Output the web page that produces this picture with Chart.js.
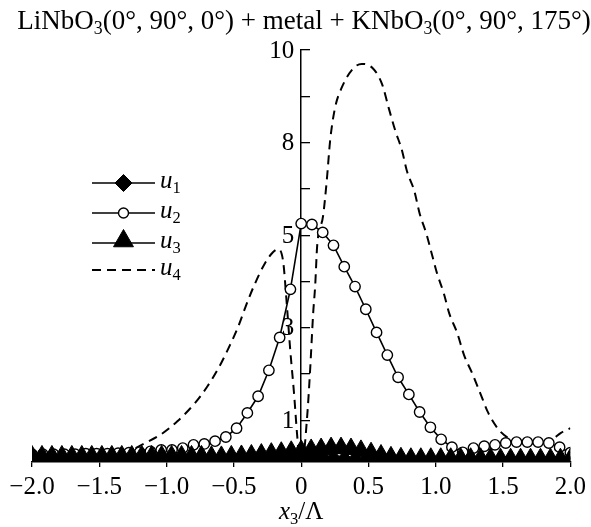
<!DOCTYPE html>
<html>
<head>
<meta charset="utf-8">
<script src="https://cdn.jsdelivr.net/npm/chart.js@4.4.1/dist/chart.umd.min.js"></script>
<style>
  html, body { margin: 0; padding: 0; background: #fff; }
</style>
</head>
<body>
<canvas id="c" width="591" height="527"></canvas>
<script>
// Sample positions x3/Λ for u1 and u2 (step 0.08)
const gridX = [-2.00,-1.92,-1.84,-1.76,-1.68,-1.60,-1.52,-1.44,-1.36,-1.28,-1.20,-1.12,-1.04,-0.96,-0.88,-0.80,-0.72,-0.64,-0.56,-0.48,-0.40,-0.32,-0.24,-0.16,-0.08,
  0.00,0.08,0.16,0.24,0.32,0.40,0.48,0.56,0.64,0.72,0.80,0.88,0.96,1.04,1.12,1.20,1.28,1.36,1.44,1.52,1.60,1.68,1.76,1.84,1.92,2.00];

const u1 = [1.05,1.05,1.05,1.05,1.05,1.05,1.05,1.05,1.05,1.05,1.05,1.05,1.05,1.05,1.05,1.05,1.06,1.07,1.09,1.11,1.12,1.12,1.13,1.14,1.15,
  1.16,1.17,1.17,1.17,1.16,1.15,1.13,1.11,1.09,1.07,1.06,1.05,1.05,1.05,1.05,1.05,1.05,1.05,1.05,1.05,1.05,1.05,1.05,1.05,1.05,1.05];

const u2 = [1.27,1.27,1.27,1.27,1.27,1.28,1.28,1.28,1.29,1.30,1.31,1.33,1.36,1.36,1.40,1.47,1.49,1.55,1.64,1.83,2.16,2.52,3.08,3.79,4.83,
  6.25,6.23,6.06,5.78,5.32,4.89,4.40,3.90,3.41,2.93,2.56,2.18,1.85,1.59,1.42,1.31,1.40,1.44,1.47,1.51,1.53,1.53,1.53,1.51,1.42,1.30];

// Sample positions for u3 (54 equal steps)
const gridX3 = [-2.000,-1.926,-1.852,-1.778,-1.704,-1.630,-1.556,-1.481,-1.407,-1.333,-1.259,-1.185,-1.111,-1.037,-0.963,-0.889,-0.815,-0.741,-0.667,-0.593,-0.519,-0.444,-0.370,-0.296,-0.222,-0.148,-0.074,
  0.000,0.074,0.148,0.222,0.296,0.370,0.444,0.519,0.593,0.667,0.741,0.815,0.889,0.963,1.037,1.111,1.185,1.259,1.333,1.407,1.481,1.556,1.630,1.704,1.778,1.852,1.926,2.000];

const u3 = [1.22,1.22,1.22,1.22,1.22,1.22,1.22,1.22,1.22,1.22,1.22,1.22,1.22,1.22,1.22,1.22,1.22,1.22,1.21,1.21,1.22,1.23,1.24,1.26,1.28,1.30,1.32,
  1.34,1.36,1.38,1.40,1.40,1.38,1.34,1.29,1.24,1.20,1.18,1.17,1.17,1.17,1.17,1.17,1.17,1.17,1.17,1.17,1.16,1.16,1.16,1.16,1.16,1.16,1.16,1.16];

// u4 is a smooth curve sampled at uneven positions
const u4X = [-2.00,-1.60,-1.33,-1.16,-1.04,-0.92,-0.79,-0.70,-0.61,-0.53,-0.47,-0.41,-0.35,-0.27,-0.21,-0.17,-0.133,-0.111,-0.081,-0.052,-0.030,-0.012,
  0.010,0.044,0.067,0.089,0.104,0.119,0.163,0.19,0.215,0.25,0.30,0.39,0.45,0.53,0.60,0.65,0.70,0.75,0.785,0.84,0.88,0.93,0.97,1.01,1.06,1.10,1.16,1.21,1.27,1.33,1.39,1.47,1.55,1.65,1.75,1.86,1.93,2.00];
const u4 = [1.20,1.22,1.28,1.51,1.70,1.98,2.37,2.72,3.15,3.62,4.01,4.48,4.91,5.39,5.63,5.70,5.41,4.66,3.51,2.54,1.68,1.15,
  1.15,2.07,3.12,4.31,4.91,5.78,6.42,7.18,8.04,8.73,9.18,9.61,9.70,9.61,9.27,8.75,8.25,7.82,7.39,6.96,6.47,6.03,5.60,5.17,4.74,4.31,3.88,3.41,3.02,2.59,2.16,1.79,1.60,1.50,1.50,1.58,1.73,1.83];

// Axis ticks and their printed labels
const xTicks = [-2, -1.5, -1, -0.5, 0, 0.5, 1, 1.5, 2];
const xTickLabels = ['\u22122.0', '\u22121.5', '\u22121.0', '\u22120.5', '0', '0.5', '1.0', '1.5', '2.0'];
const yTicks = [2, 3, 4, 5, 6, 7, 8, 9, 10];
const yLabelAt = [10, 8, 6, 4, 2];
const yLabelText = ['10', '8', '5', '3', '1'];

const seriesNames = ['1', '2', '3', '4'];

const FONT = "'Liberation Serif', 'Times New Roman', serif";

function pts(xs, ys) { return xs.map((x, i) => ({ x: x, y: ys[i] })); }

// Draws a run of text pieces (plain / italic / subscript)
function richWidth(ctx, parts, size) {
  let w = 0;
  for (const p of parts) {
    const s = p.sub ? size * 0.66 : size;
    ctx.font = (p.it ? 'italic ' : '') + s + 'px ' + FONT;
    w += ctx.measureText(p.t).width;
  }
  return w;
}
function drawRich(ctx, parts, x, y, size, align) {
  let cx = align === 'center' ? x - richWidth(ctx, parts, size) / 2 : x;
  ctx.textAlign = 'left';
  ctx.textBaseline = 'alphabetic';
  for (const p of parts) {
    const s = p.sub ? size * 0.66 : size;
    ctx.font = (p.it ? 'italic ' : '') + s + 'px ' + FONT;
    ctx.fillText(p.t, cx, p.sub ? y + size * 0.2 : y);
    cx += ctx.measureText(p.t).width;
  }
}

const textPlugin = {
  id: 'textPlugin',
  afterDraw(chart) {
    const ctx = chart.ctx;
    const xs = chart.scales.x;
    const ys = chart.scales.y;
    ctx.save();
    ctx.fillStyle = '#000';
    ctx.strokeStyle = '#000';

    // y tick labels, set left of the axis that crosses at x = 0
    const axisX = xs.getPixelForValue(0);
    ctx.font = '25px ' + FONT;
    ctx.textAlign = 'right';
    ctx.textBaseline = 'middle';
    yLabelAt.forEach((v, i) => ctx.fillText(yLabelText[i], axisX - 7, ys.getPixelForValue(v) + 1));

    // title
    drawRich(ctx, [
      { t: 'LiNbO' }, { t: '3', sub: true }, { t: '(0\u00b0, 90\u00b0, 0\u00b0) + metal + KNbO' },
      { t: '3', sub: true }, { t: '(0\u00b0, 90\u00b0, 175\u00b0)' }
    ], 304, 29, 27, 'center');

    // x-axis title
    drawRich(ctx, [{ t: 'x', it: true }, { t: '3', sub: true }, { t: '/\u039b' }],
      axisX, 519, 25, 'center');

    // legend: line sample, marker, label
    const rows = [183, 213, 243, 270];
    chart.data.datasets.forEach((ds, i) => {
      const y = rows[i];
      ctx.save();
      ctx.lineWidth = ds.borderWidth;
      ctx.setLineDash(ds.borderDash || []);
      ctx.beginPath();
      ctx.moveTo(92, y);
      ctx.lineTo(155, y);
      ctx.stroke();
      ctx.restore();
      if (ds.pointRadius > 0) {
        ctx.save();
        ctx.fillStyle = ds.pointBackgroundColor;
        ctx.strokeStyle = ds.pointBorderColor;
        ctx.lineWidth = ds.pointBorderWidth;
        Chart.helpers.drawPoint(ctx, {
          pointStyle: ds.pointStyle, radius: ds.legendRadius, rotation: 0,
          borderWidth: ds.pointBorderWidth
        }, 123.5, i === 2 ? y - 2 : y);
        ctx.restore();
      }
      drawRich(ctx, [{ t: 'u', it: true }, { t: seriesNames[i], sub: true }], 160, y + 5, 25, 'left');
    });
    ctx.restore();
  }
};

new Chart(document.getElementById('c'), {
  type: 'line',
  data: {
    datasets: [
      {
        label: 'u1', data: pts(gridX, u1), order: 3,
        borderColor: '#000', borderWidth: 1.6,
        pointStyle: 'rectRot', pointRadius: 8, legendRadius: 8.5,
        pointBackgroundColor: '#000', pointBorderColor: '#000', pointBorderWidth: 1
      },
      {
        label: 'u2', data: pts(gridX, u2), order: 1,
        borderColor: '#000', borderWidth: 1.6,
        pointStyle: 'circle', pointRadius: 5.2, legendRadius: 5,
        pointBackgroundColor: '#fff', pointBorderColor: '#000', pointBorderWidth: 1.4
      },
      {
        label: 'u3', data: pts(gridX3, u3), order: 0,
        borderColor: '#000', borderWidth: 1.6,
        pointStyle: 'triangle', pointRadius: 11, legendRadius: 11.5,
        pointBackgroundColor: '#000', pointBorderColor: '#000', pointBorderWidth: 1
      },
      {
        label: 'u4', data: pts(u4X, u4), order: 2,
        borderColor: '#000', borderWidth: 2, borderDash: [9, 6],
        pointRadius: 0, legendRadius: 0,
        cubicInterpolationMode: 'monotone'
      }
    ]
  },
  options: {
    responsive: false,
    animation: false,
    events: [],
    layout: { padding: { left: 32, right: 19, top: 50, bottom: 20 } },
    plugins: { legend: { display: false }, title: { display: false }, tooltip: { enabled: false } },
    scales: {
      x: {
        type: 'linear', min: -2, max: 2,
        afterBuildTicks: s => { s.ticks = xTicks.map(v => ({ value: v })); },
        ticks: {
          color: '#000', font: { family: FONT, size: 25 }, padding: 5, maxRotation: 0,
          callback: (v) => { const i = xTicks.indexOf(v); return i >= 0 ? xTickLabels[i] : ''; }
        },
        grid: { drawOnChartArea: false, drawTicks: true, tickLength: 5, color: '#000', lineWidth: 1.3 },
        border: { display: true, color: '#000', width: 1.5 }
      },
      y: {
        type: 'linear', min: 1.1, max: 10,
        position: { x: 0 },
        afterBuildTicks: s => { s.ticks = yTicks.map(v => ({ value: v })); },
        ticks: { display: false },
        grid: { drawOnChartArea: false, drawTicks: true, tickLength: -10, color: '#000', lineWidth: 1.3 },
        border: { display: true, color: '#000', width: 1.5 }
      }
    }
  },
  plugins: [textPlugin]
});
</script>
</body>
</html>
